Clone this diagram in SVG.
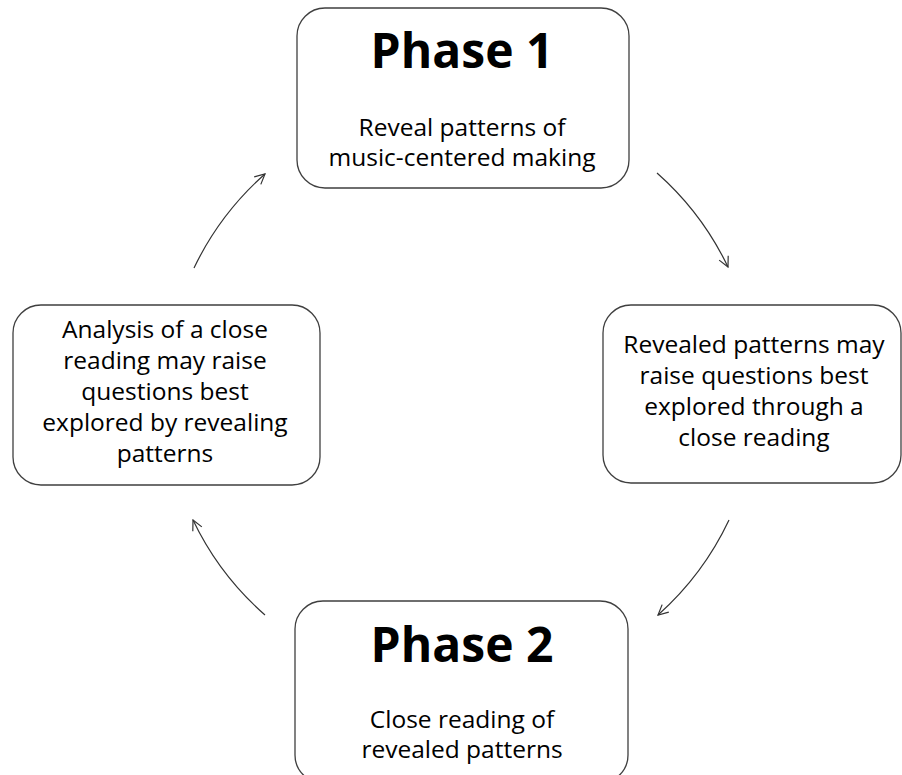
<svg xmlns="http://www.w3.org/2000/svg" width="902" height="775" viewBox="0 0 902 775">
<style>
.box{fill:#fff;stroke:#3f3f3f;stroke-width:1.3}
.t{font-family:"Open Sans","Liberation Sans",sans-serif;font-size:24.5px;fill:#000;text-anchor:middle}
.h{font-family:"Open Sans","Liberation Sans",sans-serif;font-size:48px;font-weight:bold;fill:#000;text-anchor:middle}
.c{fill:none;stroke:#333;stroke-width:1.2}
</style>
<defs>
<marker id="ah" viewBox="0 0 12 12" refX="11" refY="6" markerWidth="12" markerHeight="12" markerUnits="userSpaceOnUse" orient="auto">
<path d="M1,1 L11,6 L1,11" fill="none" stroke="#333" stroke-width="1.2"/>
</marker>
</defs>
<rect width="902" height="775" fill="#fff"/>
<g id="connectors">
<path class="c" d="M657 173 A296 296 0 0 1 728 267" marker-end="url(#ah)"/>
<path class="c" d="M729 520 A296 296 0 0 1 658 615" marker-end="url(#ah)"/>
<path class="c" d="M265 615 A296 296 0 0 1 193 520" marker-end="url(#ah)"/>
<path class="c" d="M194 268 A296 296 0 0 1 265 174" marker-end="url(#ah)"/>
</g>
<g id="phase1">
<rect class="box" x="297" y="8" width="332" height="180" rx="28"/>
<text class="h" x="462" y="68">Phase 1</text>
<text class="t" x="462" y="136">Reveal patterns of</text>
<text class="t" x="462" y="166">music-centered making</text>
</g>
<g id="right">
<rect class="box" x="603" y="305" width="298" height="178" rx="28"/>
<text class="t" x="754" y="353">Revealed patterns may</text>
<text class="t" x="754" y="384">raise questions best</text>
<text class="t" x="754" y="415">explored through a</text>
<text class="t" x="754" y="446">close reading</text>
</g>
<g id="left">
<rect class="box" x="13" y="305" width="307" height="180" rx="28"/>
<text class="t" x="165" y="338">Analysis of a close</text>
<text class="t" x="165" y="369">reading may raise</text>
<text class="t" x="165" y="400">questions best</text>
<text class="t" x="165" y="431">explored by revealing</text>
<text class="t" x="165" y="462">patterns</text>
</g>
<g id="phase2">
<rect class="box" x="295" y="601" width="333" height="182" rx="28"/>
<text class="h" x="462" y="662">Phase 2</text>
<text class="t" x="462" y="728">Close reading of</text>
<text class="t" x="462" y="758">revealed patterns</text>
</g>
</svg>
